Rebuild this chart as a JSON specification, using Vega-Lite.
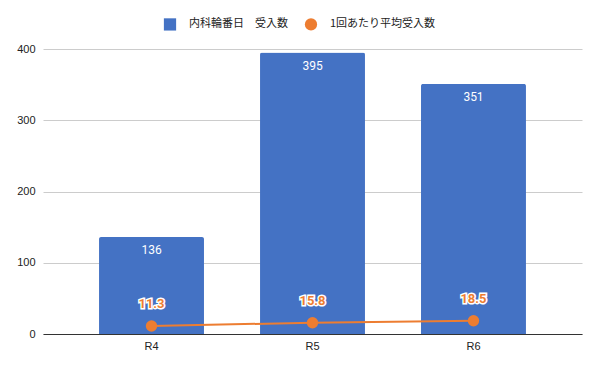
{
  "$schema": "https://vega.github.io/schema/vega-lite/v6.json",
  "width": 539,
  "height": 285,
  "autosize": {"type": "none"},
  "padding": {"left": 43, "top": 49, "right": 18, "bottom": 37},
  "background": "white",
  "config": {
    "view": {"stroke": null},
    "font": "Roboto",
    "axis": {"labelFont": "Liberation Sans", "labelFontSize": 11, "labelColor": "#222222", "titleFontSize": 11},
    "legend": {"labelFont": "Noto Sans CJK JP", "labelFontSize": 11, "labelColor": "#222222"}
  },
  "data": {
    "values": [
      {"period": "R4", "count": 136, "avg": 11.3},
      {"period": "R5", "count": 395, "avg": 15.8},
      {"period": "R6", "count": 351, "avg": 18.5}
    ]
  },
  "encoding": {
    "x": {
      "field": "period", "type": "nominal", "title": null,
      "scale": {"paddingInner": 0.348, "paddingOuter": 0.348},
      "axis": {"labelAngle": 0, "ticks": false, "domainColor": "#333333", "labelPadding": 6, "grid": false}
    }
  },
  "layer": [
    {
      "mark": {"type": "bar", "cornerRadiusTopLeft": 2, "cornerRadiusTopRight": 2},
      "encoding": {
        "y": {
          "field": "count", "type": "quantitative", "title": null,
          "scale": {"domain": [0, 400]},
          "axis": {"values": [0, 100, 200, 300, 400], "ticks": false, "domain": false, "gridColor": "#cccccc", "labelPadding": 8}
        },
        "color": {
          "datum": "内科輪番日　受入数",
          "type": "nominal",
          "scale": {"domain": ["内科輪番日　受入数", "1回あたり平均受入数"], "range": ["#4472C4", "#ED7D31"]},
          "legend": {"title": null, "orient": "none", "legendX": 120, "legendY": -32, "direction": "horizontal", "symbolType": "square", "symbolSize": 150, "columnPadding": 16, "labelLimit": 200, "labelOffset": 12}
        }
      }
    },
    {
      "mark": {"type": "text", "color": "white", "dy": 13, "fontSize": 12, "font": "Roboto"},
      "encoding": {
        "y": {"field": "count", "type": "quantitative"},
        "text": {"field": "count", "type": "quantitative"}
      }
    },
    {
      "mark": {"type": "line", "color": "#ED7D31", "strokeWidth": 2},
      "encoding": {
        "y": {"field": "avg", "type": "quantitative"}
      }
    },
    {
      "mark": {"type": "point", "filled": true, "size": 130, "opacity": 1},
      "encoding": {
        "y": {"field": "avg", "type": "quantitative"},
        "color": {"datum": "1回あたり平均受入数", "type": "nominal"},
        "shape": {
          "datum": "1回あたり平均受入数",
          "type": "nominal",
          "scale": {"domain": ["内科輪番日　受入数", "1回あたり平均受入数"], "range": ["square", "circle"]},
          "legend": {"title": null, "orient": "none", "legendX": 120, "legendY": -32, "direction": "horizontal"}
        }
      }
    },
    {
      "mark": {"type": "text", "color": "white", "stroke": "white", "strokeWidth": 3, "dy": -22, "fontSize": 13, "fontWeight": "bold", "font": "Roboto"},
      "encoding": {
        "y": {"field": "avg", "type": "quantitative"},
        "text": {"field": "avg", "type": "quantitative", "format": ".1f"}
      }
    },
    {
      "mark": {"type": "text", "color": "#ED7D31", "dy": -22, "fontSize": 13, "fontWeight": "bold", "font": "Roboto"},
      "encoding": {
        "y": {"field": "avg", "type": "quantitative"},
        "text": {"field": "avg", "type": "quantitative", "format": ".1f"}
      }
    }
  ],
  "resolve": {"scale": {"y": "shared"}}
}
